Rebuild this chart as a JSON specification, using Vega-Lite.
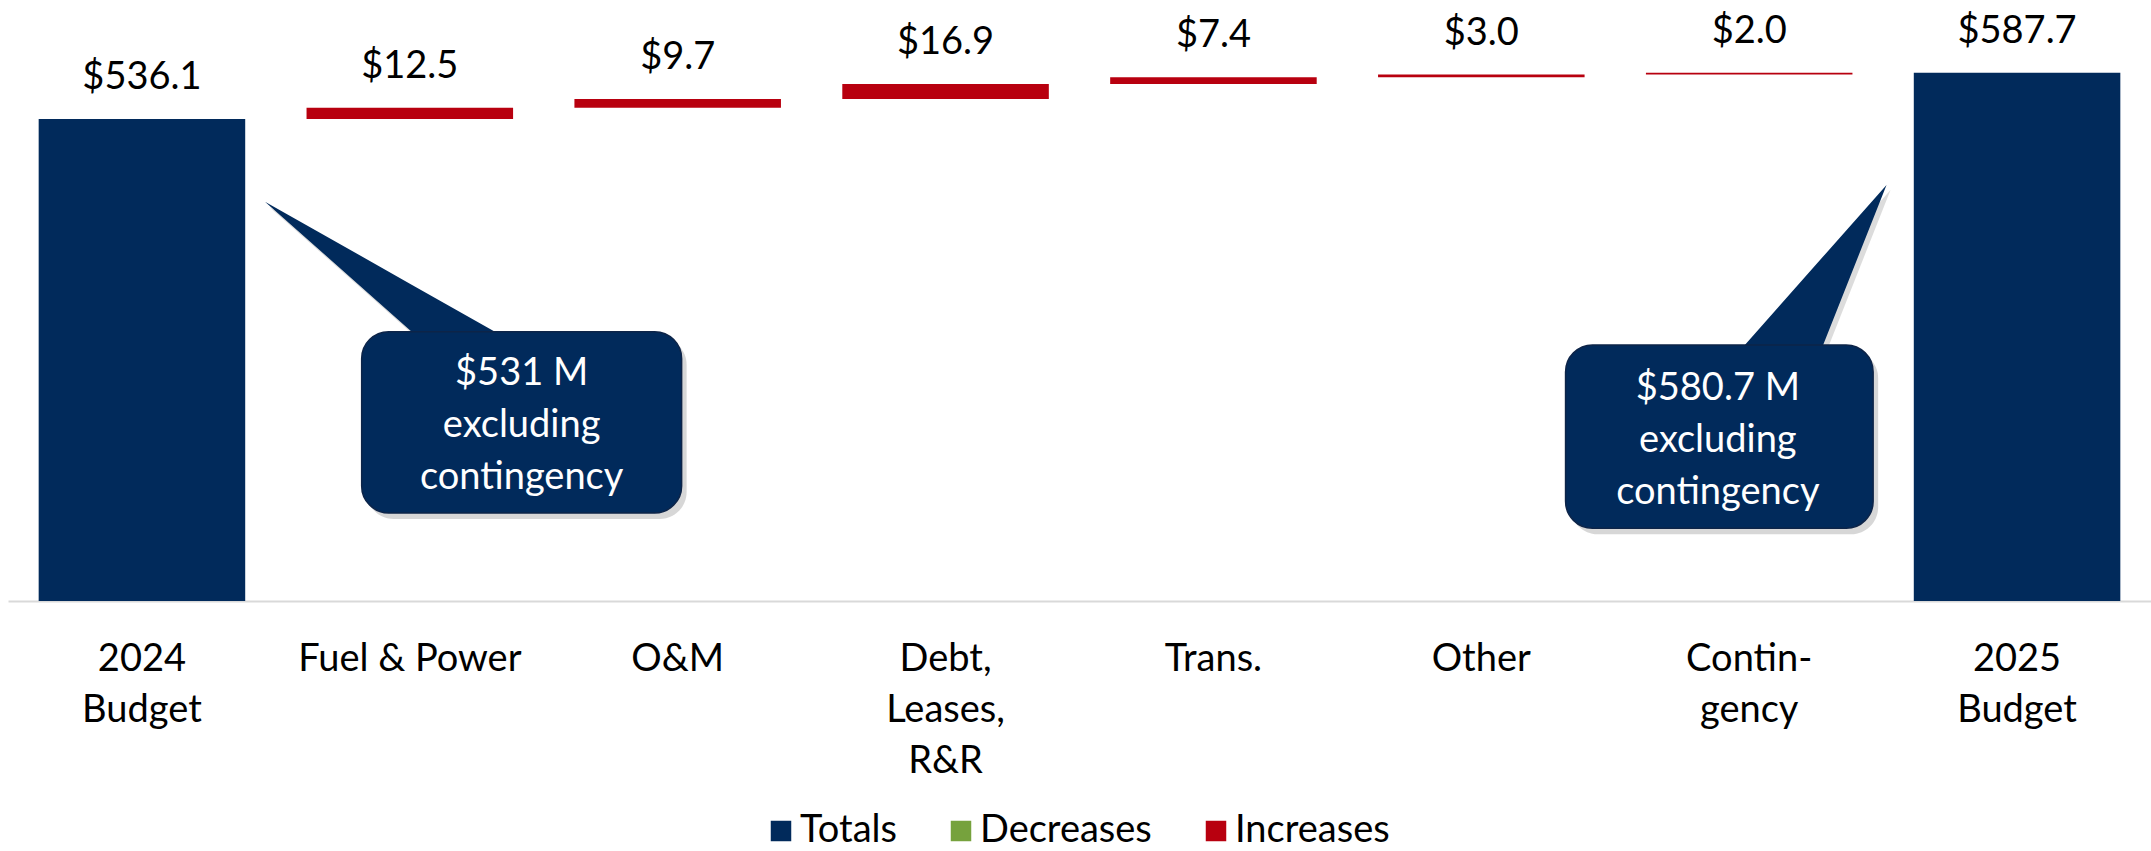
{
  "$schema": "https://vega.github.io/schema/vega-lite/v6.json",
  "width": 2143,
  "height": 601,
  "autosize": {"type": "none"},
  "padding": {"left": 8, "top": 0, "right": 0, "bottom": 250},
  "background": "white",
  "config": {"view": {"stroke": null}, "font": "Lato"},
  "datasets": {
    "bars": [
      {"cat": "2024|Budget", "type": "Totals", "start": 0, "end": 536.1, "label": "$536.1"},
      {"cat": "Fuel & Power", "type": "Increases", "start": 536.1, "end": 548.6, "label": "$12.5"},
      {"cat": "O&M", "type": "Increases", "start": 548.6, "end": 558.3, "label": "$9.7"},
      {"cat": "Debt,|Leases,|R&R", "type": "Increases", "start": 558.3, "end": 575.2, "label": "$16.9"},
      {"cat": "Trans.", "type": "Increases", "start": 575.2, "end": 582.6, "label": "$7.4"},
      {"cat": "Other", "type": "Increases", "start": 582.6, "end": 585.6, "label": "$3.0"},
      {"cat": "Contin-|gency", "type": "Increases", "start": 585.6, "end": 587.6, "label": "$2.0"},
      {"cat": "2025|Budget", "type": "Totals", "start": 0, "end": 587.7, "label": "$587.7"}
    ],
    "boxes": [
      {"id": "a", "u1": 1.3203, "u2": 2.5147, "v1": 97.9, "v2": 299.6, "tu": 1.9175, "tv": 252.0, "note": "$531 M\nexcluding\ncontingency"},
      {"id": "b", "u1": 5.8145, "u2": 6.9627, "v1": 80.9, "v2": 284.8, "tu": 6.383, "tv": 235.5, "note": "$580.7 M\nexcluding\ncontingency"}
    ],
    "pointers": [
      {"id": "a", "k": 1, "u": 0.9593, "top": 444.2, "bottom": 444.2},
      {"id": "a", "k": 2, "u": 1.5069, "top": 351.9, "bottom": 299.6},
      {"id": "a", "k": 3, "u": 1.5069, "top": 351.9, "bottom": 285},
      {"id": "a", "k": 4, "u": 1.8178, "top": 299.6, "bottom": 285},
      {"id": "b", "k": 1, "u": 6.4838, "top": 284.8, "bottom": 270},
      {"id": "b", "k": 2, "u": 6.776, "top": 383.1, "bottom": 270},
      {"id": "b", "k": 3, "u": 6.776, "top": 383.1, "bottom": 284.8},
      {"id": "b", "k": 4, "u": 7.0127, "top": 462.7, "bottom": 462.7}
    ]
  },
  "layer": [
    {
      "data": {"name": "bars"},
      "encoding": {
        "x": {
          "field": "cat", "type": "nominal", "sort": null,
          "scale": {"paddingInner": 0.229, "paddingOuter": 0.1145},
          "axis": {
            "title": null, "labelExpr": "split(datum.label, '|')",
            "labelFont": "Lato", "labelFontSize": 38, "labelColor": "#000000",
            "labelPadding": 39, "labelLineHeight": 51, "labelBaseline": "top",
            "ticks": false, "tickSize": 0, "domainColor": "#d9d9d9", "domainWidth": 2,
            "labelAngle": 0, "labelLimit": 500, "labelOverlap": false, "grid": false
          }
        }
      },
      "layer": [
        {
          "mark": {"type": "bar"},
          "encoding": {
            "y": {"field": "end", "type": "quantitative", "scale": {"domain": [0, 668.5], "nice": false, "zero": false}, "axis": null},
            "y2": {"field": "start"},
            "color": {
              "field": "type", "type": "nominal",
              "scale": {"domain": ["Totals", "Decreases", "Increases"], "range": ["#012A5B", "#76A23D", "#B8000F"]},
              "legend": {
                "title": null, "orient": "none", "direction": "horizontal",
                "legendX": 754, "legendY": 812,
                "symbolType": "square", "symbolSize": 420, "symbolStrokeWidth": 0,
                "labelFont": "Lato", "labelFontSize": 38, "labelColor": "#000000",
                "labelOffset": 0, "labelLimit": 400, "columnPadding": 45, "padding": 0
              }
            }
          }
        },
        {
          "mark": {"type": "text", "fontSize": 38, "font": "Lato", "color": "#000000", "dy": -30, "baseline": "alphabetic", "align": "center"},
          "encoding": {
            "y": {"field": "end", "type": "quantitative", "scale": {"domain": [0, 668.5], "nice": false, "zero": false}, "axis": null},
            "text": {"field": "label"}
          }
        }
      ]
    },
    {
      "encoding": {
        "x": {"field": "u", "type": "quantitative", "scale": {"domain": [0, 8], "nice": false, "zero": false}, "axis": null}
      },
      "layer": [
        {
          "data": {"name": "boxes"},
          "mark": {"type": "rect", "fill": "#8c8c8c", "opacity": 0.35, "cornerRadius": 27, "xOffset": 5, "x2Offset": 5, "yOffset": 6, "y2Offset": 6},
          "encoding": {
            "x": {"field": "u1", "type": "quantitative", "scale": {"domain": [0, 8], "nice": false, "zero": false}, "axis": null},
            "x2": {"field": "u2"},
            "y": {"field": "v1", "type": "quantitative", "scale": {"domain": [0, 668.5], "nice": false, "zero": false}, "axis": null},
            "y2": {"field": "v2"}
          }
        },
        {
          "data": {"name": "pointers"},
          "transform": [{"filter": "datum.id == 'a'"}],
          "mark": {"type": "area", "fill": "#8c8c8c", "opacity": 0.3, "interpolate": "linear", "xOffset": 4, "yOffset": 5, "y2Offset": 5},
          "encoding": {
            "y": {"field": "top", "type": "quantitative", "stack": null, "scale": {"domain": [0, 668.5], "nice": false, "zero": false}, "axis": null},
            "y2": {"field": "bottom"}
          }
        },
        {
          "data": {"name": "pointers"},
          "transform": [{"filter": "datum.id == 'b'"}],
          "mark": {"type": "area", "fill": "#8c8c8c", "opacity": 0.3, "interpolate": "linear", "xOffset": 4, "yOffset": 5, "y2Offset": 5},
          "encoding": {
            "y": {"field": "top", "type": "quantitative", "stack": null, "scale": {"domain": [0, 668.5], "nice": false, "zero": false}, "axis": null},
            "y2": {"field": "bottom"}
          }
        },
        {
          "data": {"name": "pointers"},
          "transform": [{"filter": "datum.id == 'a'"}],
          "mark": {"type": "area", "fill": "#012A5B", "interpolate": "linear"},
          "encoding": {
            "y": {"field": "top", "type": "quantitative", "stack": null, "scale": {"domain": [0, 668.5], "nice": false, "zero": false}, "axis": null},
            "y2": {"field": "bottom"}
          }
        },
        {
          "data": {"name": "pointers"},
          "transform": [{"filter": "datum.id == 'b'"}],
          "mark": {"type": "area", "fill": "#012A5B", "interpolate": "linear"},
          "encoding": {
            "y": {"field": "top", "type": "quantitative", "stack": null, "scale": {"domain": [0, 668.5], "nice": false, "zero": false}, "axis": null},
            "y2": {"field": "bottom"}
          }
        },
        {
          "data": {"name": "boxes"},
          "mark": {"type": "rect", "fill": "#012A5B", "stroke": "#0d2448", "strokeWidth": 1.5, "cornerRadius": 27},
          "encoding": {
            "x": {"field": "u1", "type": "quantitative", "scale": {"domain": [0, 8], "nice": false, "zero": false}, "axis": null},
            "x2": {"field": "u2"},
            "y": {"field": "v1", "type": "quantitative", "scale": {"domain": [0, 668.5], "nice": false, "zero": false}, "axis": null},
            "y2": {"field": "v2"}
          }
        },
        {
          "data": {"name": "boxes"},
          "mark": {"type": "text", "color": "#ffffff", "font": "Lato", "fontSize": 38, "lineHeight": 52, "lineBreak": "\n", "align": "center", "baseline": "middle"},
          "encoding": {
            "x": {"field": "tu", "type": "quantitative", "scale": {"domain": [0, 8], "nice": false, "zero": false}, "axis": null},
            "y": {"field": "tv", "type": "quantitative", "scale": {"domain": [0, 668.5], "nice": false, "zero": false}, "axis": null},
            "text": {"field": "note"}
          }
        }
      ]
    }
  ],
  "resolve": {"scale": {"x": "independent"}}
}
